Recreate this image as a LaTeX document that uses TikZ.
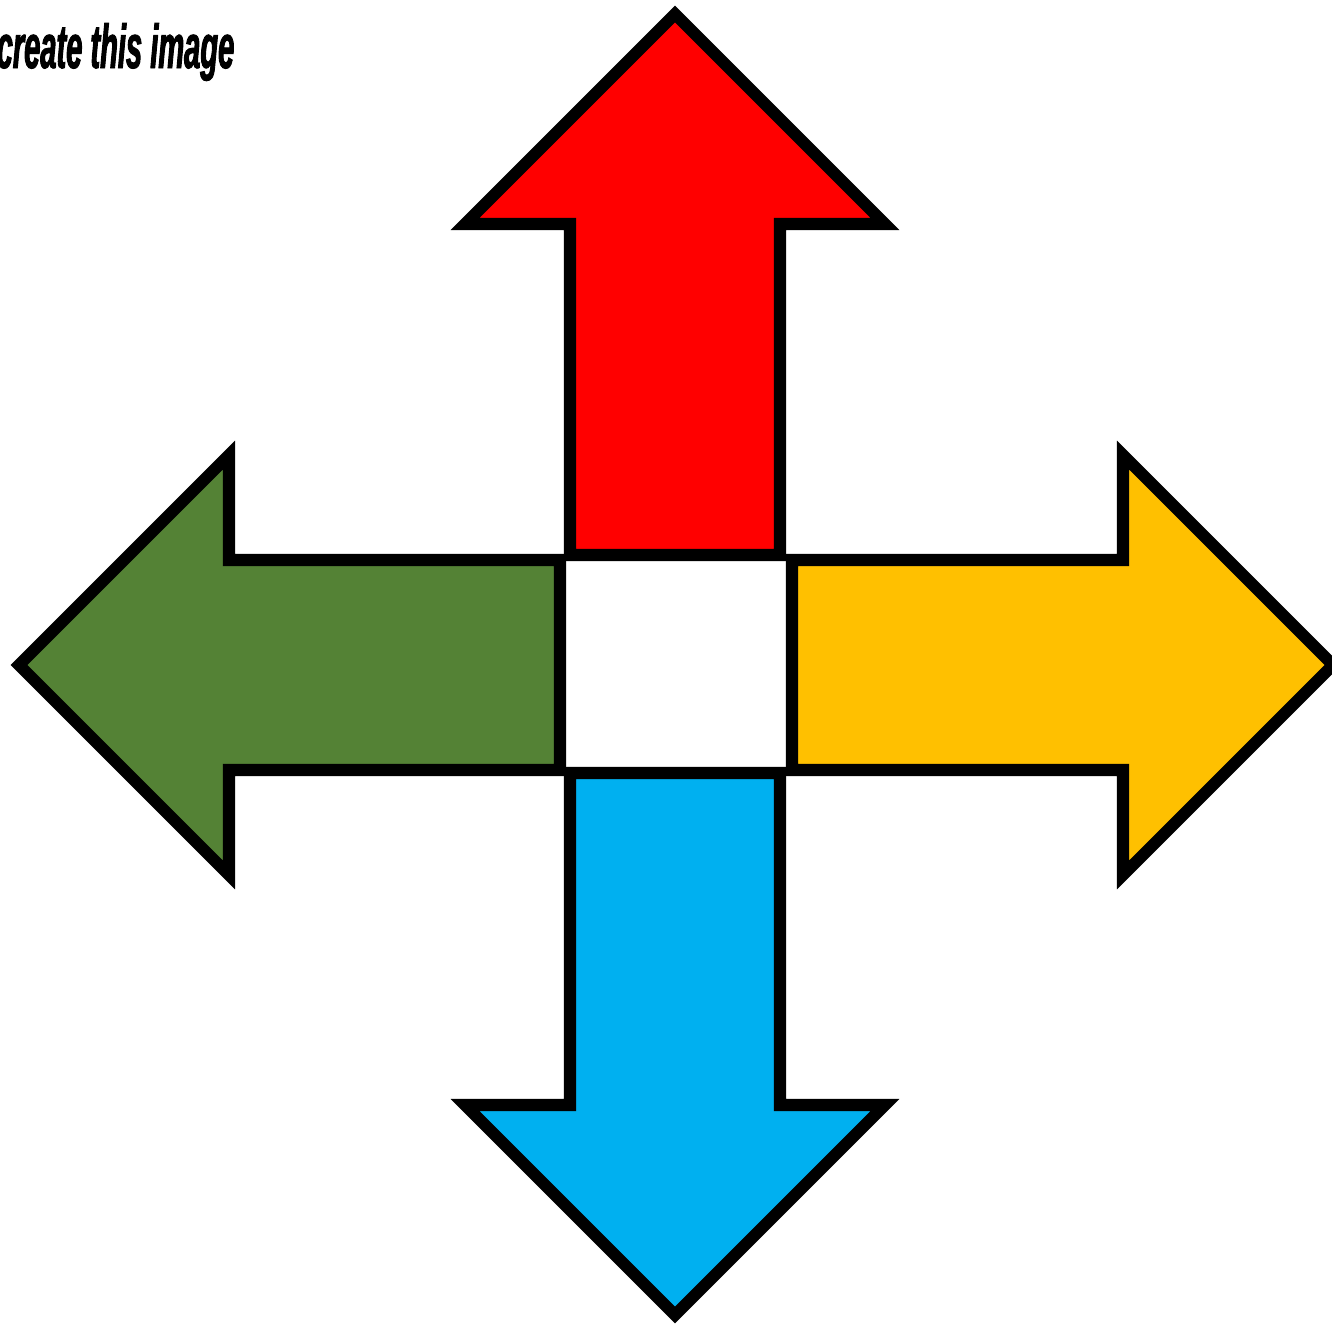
\documentclass[tikz,border=0pt]{standalone}
\usepackage{fontspec}
\usepackage{tikz}
\usepackage{xcolor}
\newfontfamily\brushfont[FakeStretch=0.47, FakeBold=1.5]{Liberation Sans}
\definecolor{arrowred}{RGB}{255, 0, 0}
\definecolor{arrowgreen}{RGB}{84, 130, 53}
\definecolor{arrowyellow}{RGB}{255, 192, 0}
\definecolor{arrowblue}{RGB}{0, 176, 240}

\begin{document}
\begin{tikzpicture}[
    x=0.01cm, y=-0.01cm,
    arrowshape/.style={draw=black, line width=0.12cm, line join=miter, miter limit=10},
    title/.style={font=\brushfont\bfseries\itshape\fontsize{17.6pt}{20pt}\selectfont, anchor=base west, inner sep=0pt}
]
    \useasboundingbox (0, 0) rectangle (1332, 1324);

    \node [title] (caption) at (-4, 68) {create this image};

    % up
    \draw [arrowshape, fill=arrowred] (570, 555) -- (570, 224) -- (465, 224) -- (675, 14)
        -- (885, 224) -- (780, 224) -- (780, 555) -- cycle;
    % left
    \draw [arrowshape, fill=arrowgreen] (560, 560) -- (229, 560) -- (229, 455) -- (19, 665)
        -- (229, 875) -- (229, 770) -- (560, 770) -- cycle;
    % right
    \draw [arrowshape, fill=arrowyellow] (792, 560) -- (1123, 560) -- (1123, 455) -- (1333, 665)
        -- (1123, 875) -- (1123, 770) -- (792, 770) -- cycle;
    % down
    \draw [arrowshape, fill=arrowblue] (570, 773) -- (570, 1105) -- (465, 1105) -- (675, 1315)
        -- (885, 1105) -- (780, 1105) -- (780, 773) -- cycle;

\end{tikzpicture}
\end{document}
